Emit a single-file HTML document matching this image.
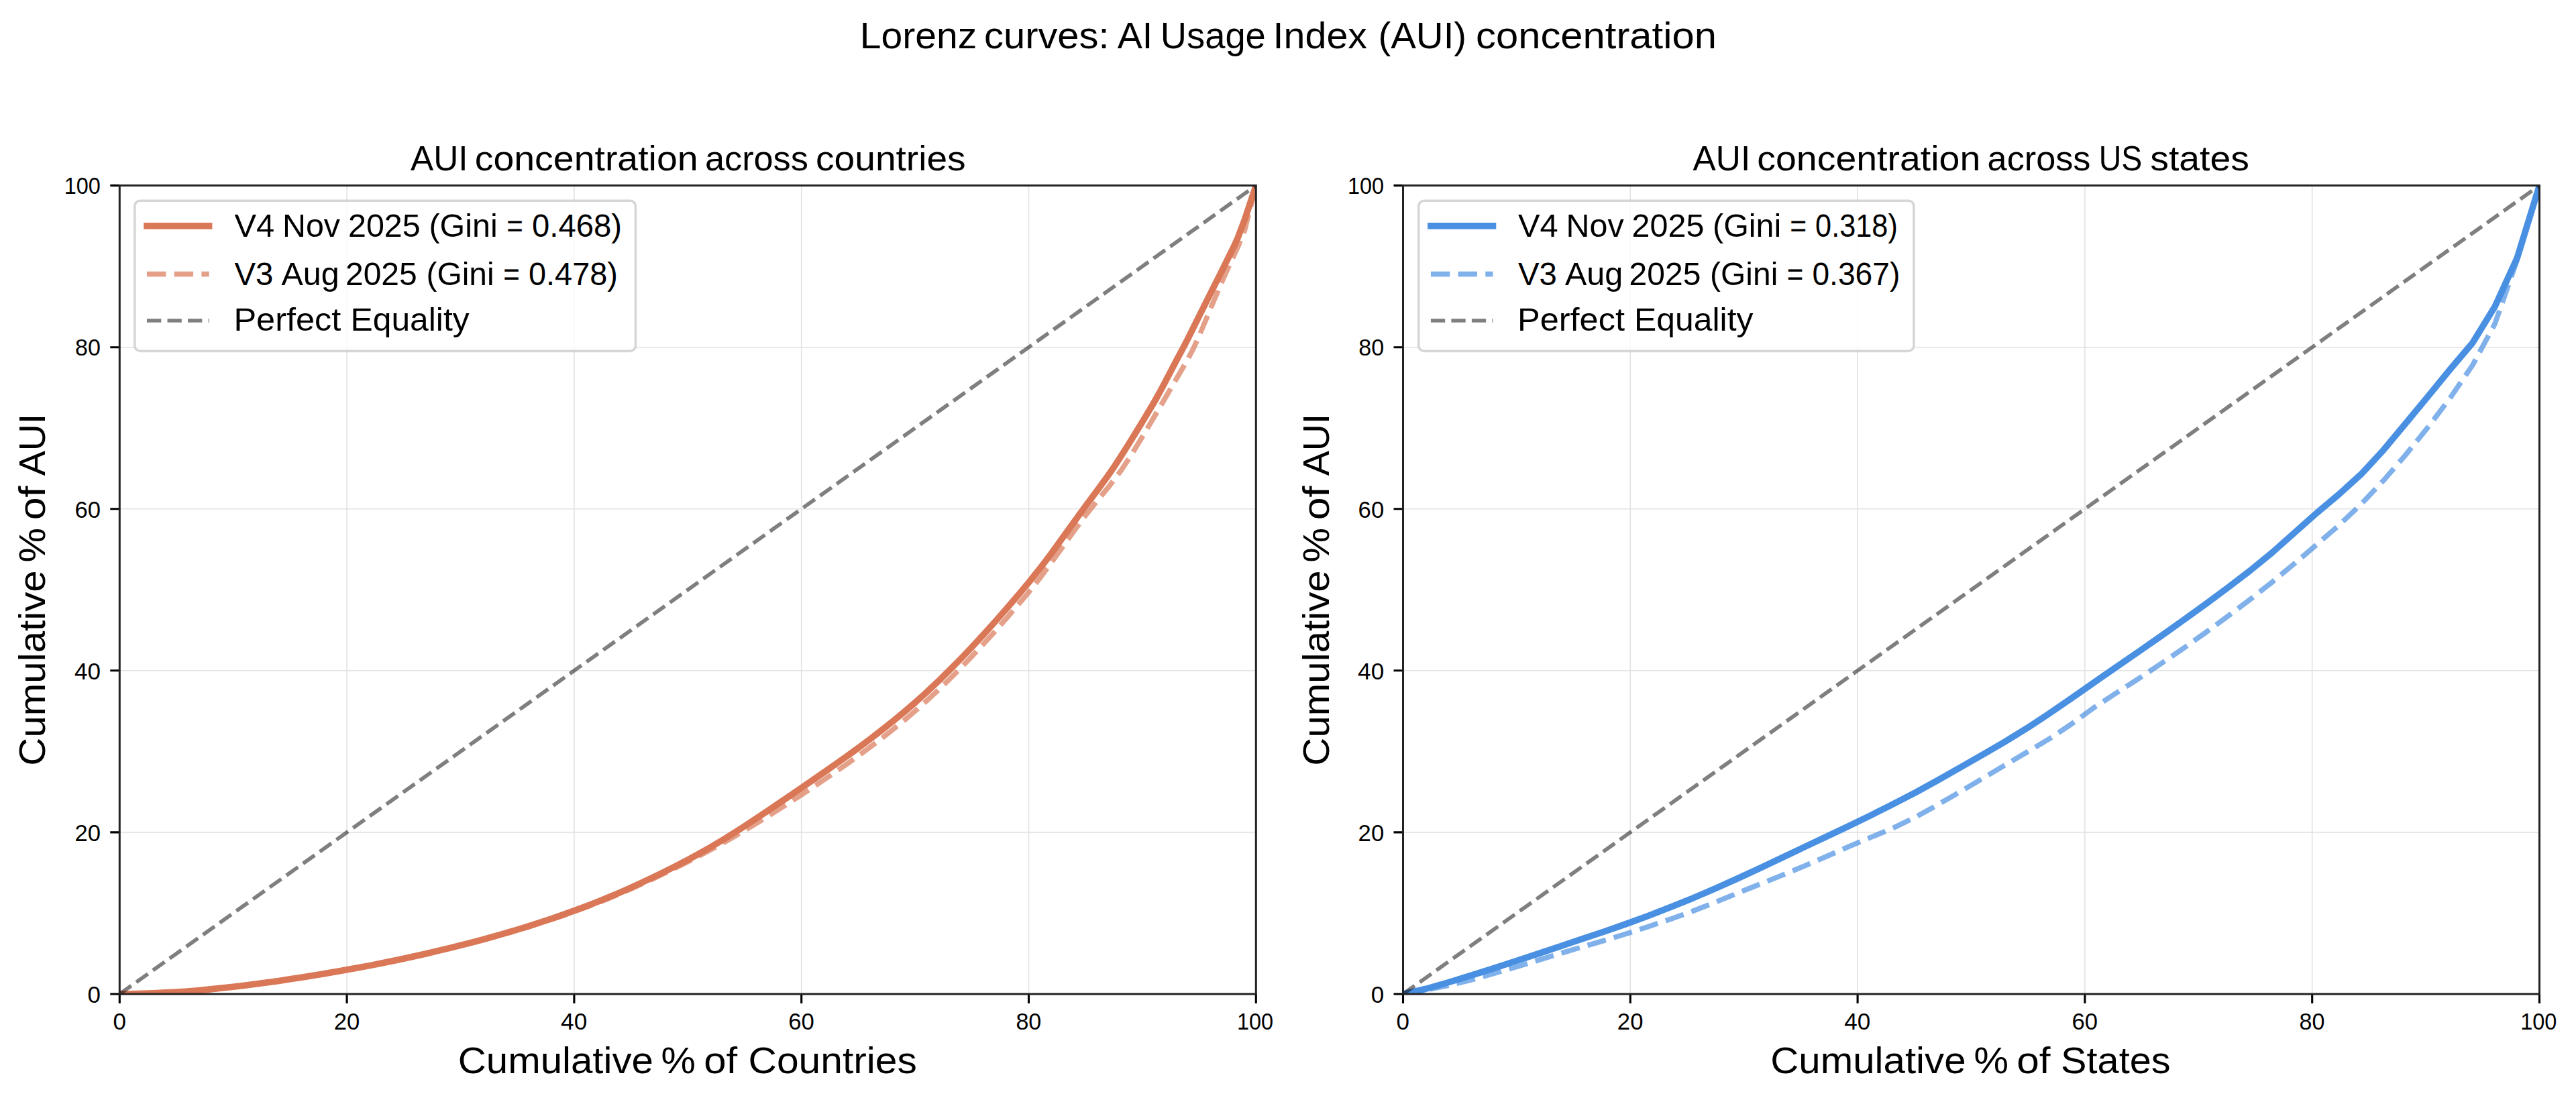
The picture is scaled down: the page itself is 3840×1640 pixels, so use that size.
<!DOCTYPE html>
<html lang="en"><head><meta charset="utf-8"><title>Lorenz curves: AI Usage Index (AUI) concentration</title>
<style>html,body{margin:0;padding:0;background:#fff}body{width:3840px;height:1640px;overflow:hidden}svg{display:block}text{font-family:"Liberation Sans",sans-serif;fill:#000}</style></head><body>
<svg width="3840" height="1640" viewBox="0 0 3840 1640">
<rect width="3840" height="1640" fill="#fff"/>
<defs>
<clipPath id="c0"><rect x="178.3" y="276.6" width="1694.0" height="1205.4"/></clipPath>
<clipPath id="c1"><rect x="2091.5" y="276.6" width="1694.0" height="1205.4"/></clipPath>
</defs>
<text y="72.1" font-size="56.1"><tspan x="1281.73" textLength="174.45" lengthAdjust="spacingAndGlyphs">Lorenz</tspan> <tspan x="1467.14" textLength="186.39" lengthAdjust="spacingAndGlyphs">curves:</tspan> <tspan x="1665.70" textLength="52.65" lengthAdjust="spacingAndGlyphs">AI</tspan> <tspan x="1729.83" textLength="157.00" lengthAdjust="spacingAndGlyphs">Usage</tspan> <tspan x="1897.58" textLength="140.47" lengthAdjust="spacingAndGlyphs">Index</tspan> <tspan x="2054.38" textLength="131.82" lengthAdjust="spacingAndGlyphs">(AUI)</tspan> <tspan x="2200.07" textLength="358.94" lengthAdjust="spacingAndGlyphs">concentration</tspan></text>
<g id="ax0">
<path d="M517.1 1482.0 V276.6 M178.3 1240.9 H1872.3 M855.9 1482.0 V276.6 M178.3 999.8 H1872.3 M1194.7 1482.0 V276.6 M178.3 758.8 H1872.3 M1533.5 1482.0 V276.6 M178.3 517.7 H1872.3" stroke="#e2e2e2" stroke-width="1.6" fill="none"/>
<g clip-path="url(#c0)" fill="none">
<path d="M178.3 1482.0 L195.2 1481.8 L212.2 1481.3 L229.1 1480.7 L246.1 1479.9 L263.0 1479.1 L279.9 1478.0 L296.9 1476.6 L313.8 1474.9 L330.8 1473.1 L347.7 1471.2 L364.6 1469.2 L381.6 1467.0 L398.5 1464.8 L415.5 1462.4 L432.4 1459.8 L449.3 1457.2 L466.3 1454.5 L483.2 1451.7 L500.2 1448.8 L517.1 1445.8 L534.0 1442.8 L551.0 1439.6 L567.9 1436.3 L584.9 1432.9 L601.8 1429.3 L618.7 1425.6 L635.7 1421.8 L652.6 1417.9 L669.6 1413.8 L686.5 1409.7 L703.4 1405.4 L720.4 1400.9 L737.3 1396.3 L754.3 1391.6 L771.2 1386.6 L788.1 1381.5 L805.1 1376.2 L822.0 1370.7 L839.0 1365.0 L855.9 1359.0 L872.8 1352.9 L889.8 1346.4 L906.7 1339.6 L923.7 1332.5 L940.6 1325.1 L957.5 1317.5 L974.5 1309.7 L991.4 1301.6 L1008.4 1293.3 L1025.3 1284.9 L1042.2 1276.2 L1059.2 1267.2 L1076.1 1257.8 L1093.1 1248.1 L1110.0 1238.1 L1126.9 1227.9 L1143.9 1217.4 L1160.8 1206.8 L1177.8 1195.9 L1194.7 1184.9 L1211.6 1173.7 L1228.6 1162.4 L1245.5 1150.8 L1262.5 1139.0 L1279.4 1126.9 L1296.3 1114.4 L1313.3 1101.6 L1330.2 1088.3 L1347.2 1074.5 L1364.1 1060.1 L1381.0 1045.1 L1398.0 1029.4 L1414.9 1013.1 L1431.9 996.1 L1448.8 978.5 L1465.7 960.4 L1482.7 941.8 L1499.6 922.6 L1516.6 903.0 L1533.5 882.9 L1550.4 861.6 L1567.4 838.6 L1584.3 814.9 L1601.3 791.2 L1618.2 768.4 L1635.1 747.2 L1652.1 726.5 L1669.0 704.3 L1672.1 700.1 L1686.0 679.0 L1702.9 651.2 L1717.6 626.4 L1719.8 622.7 L1736.8 593.8 L1738.1 591.5 L1753.7 564.8 L1758.8 556.0 L1770.7 535.4 L1778.1 521.3 L1787.6 500.8 L1804.5 460.1 L1812.7 440.8 L1821.5 420.3 L1828.6 404.0 L1838.4 383.1 L1845.7 367.1 L1855.4 343.4 L1855.5 342.9 L1872.3 276.6" stroke="#d97757" stroke-opacity="0.7" stroke-width="7.7" stroke-dasharray="28.4 12.28"/>
<path d="M178.3 1482.0 L195.2 1481.8 L212.2 1481.3 L229.1 1480.7 L246.1 1479.9 L263.0 1479.1 L279.9 1478.0 L296.9 1476.6 L313.8 1474.9 L330.8 1473.1 L347.7 1471.2 L364.6 1469.2 L381.6 1467.0 L398.5 1464.8 L415.5 1462.4 L432.4 1459.8 L449.3 1457.2 L466.3 1454.5 L483.2 1451.7 L500.2 1448.8 L517.1 1445.8 L534.0 1442.8 L551.0 1439.6 L567.9 1436.3 L584.9 1432.8 L601.8 1429.2 L618.7 1425.5 L635.7 1421.7 L652.6 1417.7 L669.6 1413.6 L686.5 1409.4 L703.4 1405.1 L720.4 1400.6 L737.3 1395.9 L754.3 1391.0 L771.2 1386.0 L788.1 1380.8 L805.1 1375.3 L822.0 1369.7 L839.0 1363.9 L855.9 1357.8 L872.8 1351.5 L889.8 1344.9 L906.7 1338.0 L923.7 1330.8 L940.6 1323.3 L957.5 1315.5 L974.5 1307.5 L991.4 1299.2 L1008.4 1290.7 L1025.3 1281.9 L1042.2 1272.7 L1059.2 1263.1 L1076.1 1253.0 L1093.1 1242.5 L1110.0 1231.7 L1126.9 1220.6 L1143.9 1209.3 L1160.8 1197.8 L1177.8 1186.3 L1194.7 1174.6 L1211.6 1163.0 L1228.6 1151.3 L1245.5 1139.4 L1262.5 1127.4 L1279.4 1115.1 L1296.3 1102.5 L1313.3 1089.4 L1330.2 1076.0 L1347.2 1062.0 L1364.1 1047.5 L1381.0 1032.2 L1398.0 1016.3 L1414.9 999.7 L1431.9 982.5 L1448.8 964.8 L1465.7 946.4 L1482.7 927.6 L1499.6 908.3 L1516.6 888.6 L1533.5 868.5 L1550.4 847.3 L1567.4 824.8 L1584.3 801.4 L1601.3 777.9 L1618.2 754.5 L1635.1 731.8 L1652.1 708.6 L1658.0 700.1 L1669.0 683.4 L1686.0 656.5 L1696.1 640.0 L1702.9 629.0 L1719.8 600.7 L1725.9 590.0 L1736.8 569.8 L1752.2 540.1 L1753.7 537.2 L1764.2 517.7 L1770.7 505.1 L1787.6 471.1 L1796.6 453.1 L1804.5 437.3 L1821.5 403.7 L1827.4 391.7 L1838.4 369.5 L1845.0 355.0 L1854.3 330.4 L1855.4 327.5 L1872.3 276.6" stroke="#d97757" stroke-width="9.6" stroke-linejoin="round"/>
<path d="M178.3 1482.0 L1872.3 276.6" stroke="#000" stroke-opacity="0.5" stroke-width="5.7" stroke-dasharray="21.3 9.21"/>
</g>
<path d="M178.3 1482.0 v14 M178.3 1482.0 h-14 M517.1 1482.0 v14 M178.3 1240.9 h-14 M855.9 1482.0 v14 M178.3 999.8 h-14 M1194.7 1482.0 v14 M178.3 758.8 h-14 M1533.5 1482.0 v14 M178.3 517.7 h-14 M1872.3 1482.0 v14 M178.3 276.6 h-14" stroke="#000" stroke-width="3.1" fill="none"/>
<rect x="178.3" y="276.6" width="1694.0" height="1205.4" fill="none" stroke="#222222" stroke-width="3"/>
<text y="1535.3" font-size="35.4"><tspan x="168.41" textLength="19.46" lengthAdjust="spacingAndGlyphs">0</tspan></text>
<text y="1494.7" font-size="35.4"><tspan x="130.51" textLength="19.46" lengthAdjust="spacingAndGlyphs">0</tspan></text>
<text y="1535.3" font-size="35.4"><tspan x="497.67" textLength="38.55" lengthAdjust="spacingAndGlyphs">20</tspan></text>
<text y="1253.6" font-size="35.4"><tspan x="111.42" textLength="38.55" lengthAdjust="spacingAndGlyphs">20</tspan></text>
<text y="1535.3" font-size="35.4"><tspan x="836.10" textLength="39.08" lengthAdjust="spacingAndGlyphs">40</tspan></text>
<text y="1012.5" font-size="35.4"><tspan x="110.90" textLength="39.08" lengthAdjust="spacingAndGlyphs">40</tspan></text>
<text y="1535.3" font-size="35.4"><tspan x="1175.27" textLength="38.55" lengthAdjust="spacingAndGlyphs">60</tspan></text>
<text y="771.5" font-size="35.4"><tspan x="111.42" textLength="38.55" lengthAdjust="spacingAndGlyphs">60</tspan></text>
<text y="1535.3" font-size="35.4"><tspan x="1514.39" textLength="37.92" lengthAdjust="spacingAndGlyphs">80</tspan></text>
<text y="530.4" font-size="35.4"><tspan x="112.04" textLength="37.92" lengthAdjust="spacingAndGlyphs">80</tspan></text>
<text y="1535.3" font-size="35.4"><tspan x="1844.02" textLength="54.16" lengthAdjust="spacingAndGlyphs">100</tspan></text>
<text y="289.3" font-size="35.4"><tspan x="95.77" textLength="54.16" lengthAdjust="spacingAndGlyphs">100</tspan></text>
<text y="254.3" font-size="52.1"><tspan x="612.00" textLength="85.61" lengthAdjust="spacingAndGlyphs">AUI</tspan> <tspan x="707.67" textLength="332.99" lengthAdjust="spacingAndGlyphs">concentration</tspan> <tspan x="1050.99" textLength="153.86" lengthAdjust="spacingAndGlyphs">across</tspan> <tspan x="1216.09" textLength="223.52" lengthAdjust="spacingAndGlyphs">countries</tspan></text>
<text y="1600.3" font-size="56.1"><tspan x="682.82" textLength="291.15" lengthAdjust="spacingAndGlyphs">Cumulative</tspan> <tspan x="985.44" textLength="51.39" lengthAdjust="spacingAndGlyphs">%</tspan> <tspan x="1049.17" textLength="49.89" lengthAdjust="spacingAndGlyphs">of</tspan> <tspan x="1115.51" textLength="251.39" lengthAdjust="spacingAndGlyphs">Countries</tspan></text>
<g transform="translate(67.3 0) rotate(-90)"><text y="0.0" font-size="56.1"><tspan x="-1141.68" textLength="291.36" lengthAdjust="spacingAndGlyphs">Cumulative</tspan> <tspan x="-838.47" textLength="51.61" lengthAdjust="spacingAndGlyphs">%</tspan> <tspan x="-775.26" textLength="50.51" lengthAdjust="spacingAndGlyphs">of</tspan> <tspan x="-709.30" textLength="92.54" lengthAdjust="spacingAndGlyphs">AUI</tspan></text></g>
<rect x="200.8" y="299.3" width="746.6" height="224.1" rx="8" ry="8" fill="#fff" fill-opacity="0.8" stroke="#cccccc" stroke-opacity="0.8" stroke-width="3.6"/>
<path d="M219.0 336.9 H311.6" stroke="#d97757" stroke-width="9.6" stroke-linecap="square"/>
<path d="M219.0 408.7 H311.6" stroke="#d97757" stroke-opacity="0.7" stroke-width="7.7" stroke-dasharray="28.4 12.28"/>
<path d="M219.0 478 H311.6" stroke="#000" stroke-opacity="0.5" stroke-width="5.7" stroke-dasharray="21.3 9.21"/>
<text y="352.6" font-size="48.1"><tspan x="349.40" textLength="59.76" lengthAdjust="spacingAndGlyphs">V4</tspan> <tspan x="420.98" textLength="86.07" lengthAdjust="spacingAndGlyphs">Nov</tspan> <tspan x="518.99" textLength="107.77" lengthAdjust="spacingAndGlyphs">2025</tspan> <tspan x="639.49" textLength="102.22" lengthAdjust="spacingAndGlyphs">(Gini</tspan> <tspan x="755.25" textLength="24.58" lengthAdjust="spacingAndGlyphs">=</tspan> <tspan x="793.02" textLength="133.96" lengthAdjust="spacingAndGlyphs">0.468)</tspan></text>
<text y="425.0" font-size="48.1"><tspan x="349.40" textLength="57.92" lengthAdjust="spacingAndGlyphs">V3</tspan> <tspan x="419.40" textLength="86.37" lengthAdjust="spacingAndGlyphs">Aug</tspan> <tspan x="515.00" textLength="106.74" lengthAdjust="spacingAndGlyphs">2025</tspan> <tspan x="635.51" textLength="101.17" lengthAdjust="spacingAndGlyphs">(Gini</tspan> <tspan x="750.25" textLength="24.58" lengthAdjust="spacingAndGlyphs">=</tspan> <tspan x="788.03" textLength="132.94" lengthAdjust="spacingAndGlyphs">0.478)</tspan></text>
<text y="493.4" font-size="48.1"><tspan x="348.45" textLength="159.88" lengthAdjust="spacingAndGlyphs">Perfect</tspan> <tspan x="522.49" textLength="177.15" lengthAdjust="spacingAndGlyphs">Equality</tspan></text>
</g>
<g id="ax1">
<path d="M2430.3 1482.0 V276.6 M2091.5 1240.9 H3785.5 M2769.1 1482.0 V276.6 M2091.5 999.8 H3785.5 M3107.9 1482.0 V276.6 M2091.5 758.8 H3785.5 M3446.7 1482.0 V276.6 M2091.5 517.7 H3785.5" stroke="#e2e2e2" stroke-width="1.6" fill="none"/>
<g clip-path="url(#c1)" fill="none">
<path d="M2091.5 1482.0 L2124.7 1476.1 L2157.9 1469.6 L2191.1 1461.5 L2224.4 1452.1 L2257.6 1442.4 L2290.8 1432.3 L2324.0 1422.0 L2357.2 1412.2 L2390.4 1402.5 L2423.7 1392.4 L2456.9 1381.6 L2490.1 1370.3 L2523.3 1358.4 L2556.5 1345.4 L2589.7 1331.8 L2623.0 1318.4 L2656.2 1305.0 L2689.4 1291.3 L2722.6 1276.9 L2755.8 1262.3 L2789.0 1248.3 L2822.2 1234.5 L2855.5 1218.2 L2888.7 1199.7 L2921.9 1180.5 L2955.1 1160.8 L2988.3 1141.0 L3021.5 1121.4 L3054.8 1101.6 L3088.0 1079.4 L3121.2 1055.1 L3154.4 1033.4 L3187.6 1012.1 L3220.8 989.9 L3254.0 967.1 L3287.3 943.5 L3320.5 919.2 L3353.7 894.1 L3386.9 867.9 L3420.1 840.4 L3453.3 812.1 L3486.6 783.1 L3519.8 751.6 L3553.0 716.4 L3586.2 678.0 L3619.4 636.8 L3652.6 593.1 L3685.9 544.3 L3719.1 482.8 L3752.3 387.5 L3785.5 276.6" stroke="#4a90e2" stroke-opacity="0.7" stroke-width="7.7" stroke-dasharray="28.4 12.28"/>
<path d="M2091.5 1482.0 L2124.7 1474.5 L2157.9 1465.0 L2191.1 1454.8 L2224.4 1444.3 L2257.6 1433.5 L2290.8 1422.6 L2324.0 1411.5 L2357.2 1400.3 L2390.4 1389.2 L2423.7 1377.6 L2456.9 1365.4 L2490.1 1352.6 L2523.3 1339.2 L2556.5 1324.9 L2589.7 1310.0 L2623.0 1294.6 L2656.2 1278.9 L2689.4 1263.0 L2722.6 1247.4 L2755.8 1231.7 L2789.0 1215.5 L2822.2 1198.8 L2855.5 1181.5 L2888.7 1163.2 L2921.9 1144.3 L2955.1 1125.3 L2988.3 1106.1 L3021.5 1085.7 L3054.8 1063.8 L3088.0 1041.0 L3121.2 1017.7 L3154.4 994.8 L3187.6 971.9 L3220.8 948.7 L3254.0 925.2 L3287.3 901.1 L3320.5 876.5 L3353.7 851.1 L3386.9 824.0 L3420.1 794.5 L3453.3 765.0 L3486.6 737.0 L3519.8 706.9 L3553.0 670.9 L3586.2 631.2 L3619.4 591.0 L3652.6 550.4 L3685.9 511.1 L3719.1 456.9 L3752.3 384.5 L3785.5 276.6" stroke="#4a90e2" stroke-width="9.6" stroke-linejoin="round"/>
<path d="M2091.5 1482.0 L3785.5 276.6" stroke="#000" stroke-opacity="0.5" stroke-width="5.7" stroke-dasharray="21.3 9.21"/>
</g>
<path d="M2091.5 1482.0 v14 M2091.5 1482.0 h-14 M2430.3 1482.0 v14 M2091.5 1240.9 h-14 M2769.1 1482.0 v14 M2091.5 999.8 h-14 M3107.9 1482.0 v14 M2091.5 758.8 h-14 M3446.7 1482.0 v14 M2091.5 517.7 h-14 M3785.5 1482.0 v14 M2091.5 276.6 h-14" stroke="#000" stroke-width="3.1" fill="none"/>
<rect x="2091.5" y="276.6" width="1694.0" height="1205.4" fill="none" stroke="#222222" stroke-width="3"/>
<text y="1535.3" font-size="35.4"><tspan x="2081.61" textLength="19.46" lengthAdjust="spacingAndGlyphs">0</tspan></text>
<text y="1494.7" font-size="35.4"><tspan x="2043.71" textLength="19.46" lengthAdjust="spacingAndGlyphs">0</tspan></text>
<text y="1535.3" font-size="35.4"><tspan x="2410.87" textLength="38.55" lengthAdjust="spacingAndGlyphs">20</tspan></text>
<text y="1253.6" font-size="35.4"><tspan x="2024.62" textLength="38.55" lengthAdjust="spacingAndGlyphs">20</tspan></text>
<text y="1535.3" font-size="35.4"><tspan x="2749.30" textLength="39.08" lengthAdjust="spacingAndGlyphs">40</tspan></text>
<text y="1012.5" font-size="35.4"><tspan x="2024.10" textLength="39.08" lengthAdjust="spacingAndGlyphs">40</tspan></text>
<text y="1535.3" font-size="35.4"><tspan x="3088.47" textLength="38.55" lengthAdjust="spacingAndGlyphs">60</tspan></text>
<text y="771.5" font-size="35.4"><tspan x="2024.62" textLength="38.55" lengthAdjust="spacingAndGlyphs">60</tspan></text>
<text y="1535.3" font-size="35.4"><tspan x="3427.59" textLength="37.92" lengthAdjust="spacingAndGlyphs">80</tspan></text>
<text y="530.4" font-size="35.4"><tspan x="2025.24" textLength="37.92" lengthAdjust="spacingAndGlyphs">80</tspan></text>
<text y="1535.3" font-size="35.4"><tspan x="3757.22" textLength="54.16" lengthAdjust="spacingAndGlyphs">100</tspan></text>
<text y="289.3" font-size="35.4"><tspan x="2008.97" textLength="54.16" lengthAdjust="spacingAndGlyphs">100</tspan></text>
<text y="254.3" font-size="52.1"><tspan x="2523.60" textLength="85.61" lengthAdjust="spacingAndGlyphs">AUI</tspan> <tspan x="2619.27" textLength="332.99" lengthAdjust="spacingAndGlyphs">concentration</tspan> <tspan x="2962.59" textLength="153.86" lengthAdjust="spacingAndGlyphs">across</tspan> <tspan x="3128.83" textLength="64.52" lengthAdjust="spacingAndGlyphs">US</tspan> <tspan x="3205.24" textLength="147.67" lengthAdjust="spacingAndGlyphs">states</tspan></text>
<text y="1600.3" font-size="56.1"><tspan x="2639.22" textLength="291.36" lengthAdjust="spacingAndGlyphs">Cumulative</tspan> <tspan x="2942.53" textLength="51.50" lengthAdjust="spacingAndGlyphs">%</tspan> <tspan x="3006.25" textLength="50.30" lengthAdjust="spacingAndGlyphs">of</tspan> <tspan x="3072.14" textLength="163.43" lengthAdjust="spacingAndGlyphs">States</tspan></text>
<g transform="translate(1980.5 0) rotate(-90)"><text y="0.0" font-size="56.1"><tspan x="-1141.68" textLength="291.36" lengthAdjust="spacingAndGlyphs">Cumulative</tspan> <tspan x="-838.47" textLength="51.61" lengthAdjust="spacingAndGlyphs">%</tspan> <tspan x="-775.26" textLength="50.51" lengthAdjust="spacingAndGlyphs">of</tspan> <tspan x="-709.30" textLength="92.54" lengthAdjust="spacingAndGlyphs">AUI</tspan></text></g>
<rect x="2114.7" y="299.3" width="738.2" height="224.1" rx="8" ry="8" fill="#fff" fill-opacity="0.8" stroke="#cccccc" stroke-opacity="0.8" stroke-width="3.6"/>
<path d="M2132.9 336.9 H2225.5" stroke="#4a90e2" stroke-width="9.6" stroke-linecap="square"/>
<path d="M2132.9 408.7 H2225.5" stroke="#4a90e2" stroke-opacity="0.7" stroke-width="7.7" stroke-dasharray="28.4 12.28"/>
<path d="M2132.9 478 H2225.5" stroke="#000" stroke-opacity="0.5" stroke-width="5.7" stroke-dasharray="21.3 9.21"/>
<text y="352.6" font-size="48.1"><tspan x="2263.00" textLength="59.76" lengthAdjust="spacingAndGlyphs">V4</tspan> <tspan x="2334.58" textLength="86.07" lengthAdjust="spacingAndGlyphs">Nov</tspan> <tspan x="2432.59" textLength="107.77" lengthAdjust="spacingAndGlyphs">2025</tspan> <tspan x="2553.09" textLength="102.22" lengthAdjust="spacingAndGlyphs">(Gini</tspan> <tspan x="2668.22" textLength="24.93" lengthAdjust="spacingAndGlyphs">=</tspan> <tspan x="2706.10" textLength="122.71" lengthAdjust="spacingAndGlyphs">0.318)</tspan></text>
<text y="425.0" font-size="48.1"><tspan x="2263.00" textLength="57.92" lengthAdjust="spacingAndGlyphs">V3</tspan> <tspan x="2333.00" textLength="86.37" lengthAdjust="spacingAndGlyphs">Aug</tspan> <tspan x="2428.60" textLength="106.74" lengthAdjust="spacingAndGlyphs">2025</tspan> <tspan x="2549.11" textLength="101.17" lengthAdjust="spacingAndGlyphs">(Gini</tspan> <tspan x="2663.85" textLength="24.58" lengthAdjust="spacingAndGlyphs">=</tspan> <tspan x="2701.44" textLength="130.89" lengthAdjust="spacingAndGlyphs">0.367)</tspan></text>
<text y="493.4" font-size="48.1"><tspan x="2262.05" textLength="159.88" lengthAdjust="spacingAndGlyphs">Perfect</tspan> <tspan x="2436.09" textLength="177.36" lengthAdjust="spacingAndGlyphs">Equality</tspan></text>
</g>
</svg></body></html>
